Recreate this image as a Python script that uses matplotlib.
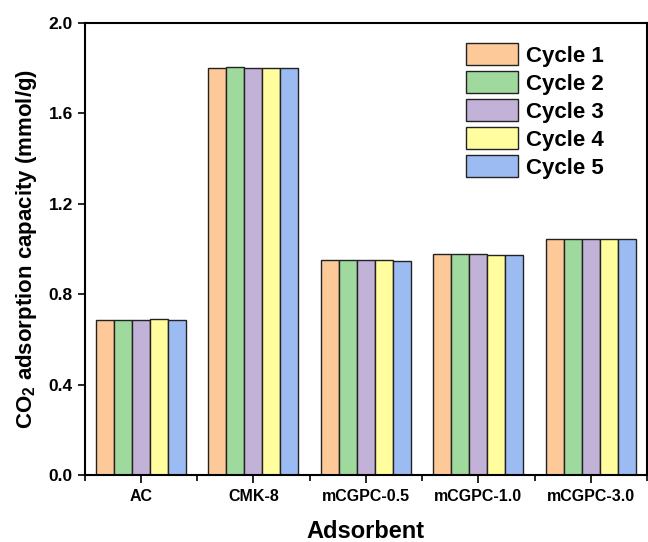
import matplotlib.pyplot as plt
import numpy as np

plt.rcParams['font.family'] = ['Liberation Sans', 'DejaVu Sans']
plt.rcParams['font.weight'] = 'bold'
plt.rcParams['mathtext.fontset'] = 'custom'
plt.rcParams['mathtext.rm'] = 'Liberation Sans'
plt.rcParams['mathtext.bf'] = 'Liberation Sans:bold'

adsorbents = ['AC', 'CMK-8', 'mCGPC-0.5', 'mCGPC-1.0', 'mCGPC-3.0']
cycles = ['Cycle 1', 'Cycle 2', 'Cycle 3', 'Cycle 4', 'Cycle 5']
cycle1 = [0.688, 1.800, 0.953, 0.977, 1.043]
cycle2 = [0.687, 1.805, 0.951, 0.976, 1.046]
cycle3 = [0.688, 1.801, 0.950, 0.976, 1.045]
cycle4 = [0.690, 1.800, 0.950, 0.975, 1.043]
cycle5 = [0.686, 1.802, 0.946, 0.972, 1.046]
colors = ['#FDC998', '#A0D99E', '#C2B2D7', '#FFFD9E', '#9CBBF2']

fig = plt.figure(figsize=(6.48, 5.42), dpi=100)
ax = fig.add_axes([0.1307, 0.123, 0.8677, 0.835])

x = np.arange(len(adsorbents))
w = 0.16
for i, vals in enumerate([cycle1, cycle2, cycle3, cycle4, cycle5]):
    ax.bar(x + (i - 2) * w, vals, w, color=colors[i], edgecolor='#222222',
           linewidth=1, label=cycles[i])

ax.set_xlim(-0.5, 4.5)
ax.set_ylim(0, 2.0)
ax.set_yticks([0.0, 0.4, 0.8, 1.2, 1.6, 2.0])
ax.set_xticks(x)
ax.set_xticklabels(adsorbents, fontsize=11.5, fontweight='bold')
ax.set_xticks(np.arange(-0.5, 4.6, 1), minor=True)
ax.tick_params(axis='x', which='major', length=6, width=1.2)
ax.tick_params(axis='x', which='minor', length=4, width=1.2)
ax.tick_params(axis='y', length=5, width=1.2, labelsize=12.5)
for lab in ax.get_yticklabels():
    lab.set_fontweight('bold')
for s in ax.spines.values():
    s.set_linewidth(1.5)

ax.set_xlabel('Adsorbent', fontsize=17, fontweight='bold', labelpad=12)
ax.set_ylabel(r'CO$_\mathbf{2}$ adsorption capacity (mmol/g)', fontsize=16,
              fontweight='bold', labelpad=7)

ax.legend(loc='upper left', bbox_to_anchor=(0.6776, 0.955), frameon=False,
          prop={'size': 16, 'weight': 'bold'}, handlelength=2.34,
          handleheight=1.125, labelspacing=0.21, handletextpad=0.37,
          borderpad=0, borderaxespad=0)

fig.savefig('out.png', dpi=100)
